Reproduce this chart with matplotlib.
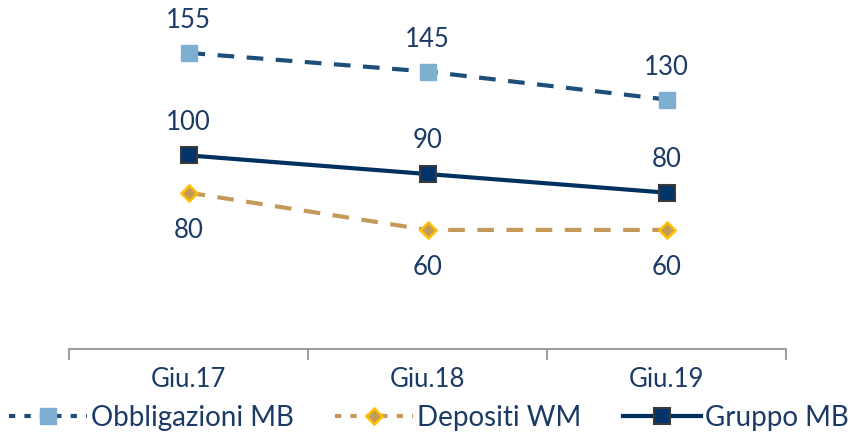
import matplotlib
matplotlib.use("Agg")
import matplotlib.pyplot as plt
from matplotlib.lines import Line2D

categories = ["Giu.17", "Giu.18", "Giu.19"]
obbligazioni = [155, 145, 130]
depositi = [80, 60, 60]
gruppo = [100, 90, 80]
series_names = ["Obbligazioni MB", "Depositi WM", "Gruppo MB"]

plt.rcParams['font.family'] = ['Lato', 'DejaVu Sans']
txt = "#1B3A66"

fig = plt.figure(figsize=(8.58, 4.37), dpi=100)
ax = fig.add_axes([69/858, (437-349)/437, (786-69)/858, 349/437])
x = list(range(len(categories)))

c_obb = "#1D4E7A"
c_dep = "#C49A5A"
c_grp = "#00305F"

ax.plot(x, obbligazioni, color=c_obb, lw=3, ls=(0, (4, 3)), marker="s", ms=11,
        mfc="#7FAFD0", mec="#7FAFD0", zorder=3)
ax.plot(x, depositi, color=c_dep, lw=3, ls=(0, (4, 3)), marker="D", ms=8,
        mfc=c_dep, mec="#FFC000", mew=1.8, zorder=3)
ax.plot(x, gruppo, color=c_grp, lw=3, ls="-", marker="s", ms=11,
        mfc="#00346A", mec="#3A3A3A", mew=1.5, zorder=4)

for xi, v in zip(x, obbligazioni):
    ax.annotate(str(v), (xi, v), xytext=(0, 23), textcoords="offset points",
                ha="center", va="center", fontsize=18.5, color=txt)
for xi, v in zip(x, gruppo):
    ax.annotate(str(v), (xi, v), xytext=(0, 24), textcoords="offset points",
                ha="center", va="center", fontsize=18.5, color=txt)
for xi, v in zip(x, depositi):
    ax.annotate(str(v), (xi, v), xytext=(0, -27), textcoords="offset points",
                ha="center", va="center", fontsize=18.5, color=txt)

ax.set_xlim(-0.5, 2.5)
ax.set_ylim(-3.9, 183.4)
ax.set_yticks([])
for s in ["top", "right", "left"]:
    ax.spines[s].set_visible(False)
ax.spines["bottom"].set_color("#8C8C8C")
ax.spines["bottom"].set_linewidth(1.2)
ax.set_xticks([-0.5, 0.5, 1.5, 2.5], minor=False)
ax.set_xticklabels([])
ax.tick_params(axis="x", which="major", length=8, width=1.2, color="#8C8C8C", direction="out")
ax.set_xticks(x, minor=True)
ax.set_xticklabels(categories, minor=True)
ax.tick_params(axis="x", which="minor", length=0, pad=13, labelsize=18.5, labelcolor=txt)

handles = [
    Line2D([], [], color=c_obb, lw=3, ls=(0, (1.5, 2.2)), marker="s", ms=11, mfc="#7FAFD0", mec="#7FAFD0"),
    Line2D([], [], color=c_dep, lw=3, ls=(0, (1.5, 2.2)), marker="D", ms=8, mfc=c_dep, mec="#FFC000", mew=1.8),
    Line2D([], [], color=c_grp, lw=3, ls="-", marker="s", ms=11, mfc="#00346A", mec="#3A3A3A", mew=1.5),
]
fig.legend(handles, series_names, loc="center", bbox_to_anchor=(0.5, 19/437), ncol=3,
           frameon=False, fontsize=20, labelcolor=txt, handlelength=2.8, handletextpad=0.15,
           columnspacing=1.5)

fig.savefig("out.png", dpi=100)
